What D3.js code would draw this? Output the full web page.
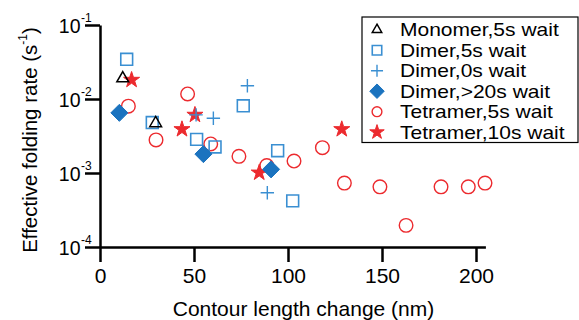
<!DOCTYPE html>
<html>
<head>
<style>
body{
  margin: 0;
  background: #fff;
}
text{
  font-family: "Liberation Sans", Arial, sans-serif;
}
</style>
</head>
<body>
<svg id="chart"></svg>
<script src="https://cdn.jsdelivr.net/npm/d3@7"></script>
<script>
// contour length change (nm) and effective folding rate (1/s) per series
var monomer5X = [12.1, 29.6];
var monomer5Y = [0.019, 0.0047];
var dimer5X = [14.2, 27.8, 51.4, 61.2, 76.2, 94.5, 102.5];
var dimer5Y = [0.0344, 0.0048, 0.00285, 0.00225, 0.0081, 0.0020, 0.00042];
var dimer0X = [78.4, 51.1, 60.3, 89.0];
var dimer0Y = [0.0151, 0.0061, 0.0055, 0.00054];
var dimer20X = [10.3, 55.0, 91.0];
var dimer20Y = [0.0065, 0.0018, 0.00112];
var tetra5X = [15.1, 29.8, 46.6, 58.9, 73.9, 88.7, 103.2, 118.3, 130.0, 148.9, 162.8, 181.4, 195.9, 204.8];
var tetra5Y = [0.0080, 0.0028, 0.0117, 0.00247, 0.00168, 0.00126, 0.00145, 0.0022, 0.00073, 0.00065, 0.000196, 0.00065, 0.00065, 0.00073];
var tetra10X = [16.8, 43.6, 50.5, 84.7, 128.6];
var tetra10Y = [0.0181, 0.0039, 0.0061, 0.00101, 0.0039];

var xTicks = [0, 50, 100, 150, 200];
var yTicks = [1e-4, 1e-3, 1e-2, 1e-1];

var blue = '#1b73bf';
var lightBlue = '#3a8fd2';
var red = '#ec2a2e';

var width = 579, height = 320;
var svg = d3.select('#chart').attr('width', width).attr('height', height);

var x = d3.scaleLinear().domain([0, 205]).range([100, 485.4]);
var y = d3.scaleLog().domain([1e-4, 1e-1]).range([247, 25]);

function pts(xs, ys) {
  return xs.map(function (v, i) { return [v, ys[i]]; });
}

// series in drawing order (later drawn on top)
var series = [
  {name: 'Tetramer,5s wait', data: pts(tetra5X, tetra5Y), shape: d3.symbolCircle, size: 145, fill: 'none', stroke: red, lw: 1.4, ls: 0.72},
  {name: 'Tetramer,10s wait', data: pts(tetra10X, tetra10Y), shape: d3.symbolStar, size: 80, fill: red, stroke: red, lw: 1, ls: 0.9},
  {name: 'Dimer,5s wait', data: pts(dimer5X, dimer5Y), shape: d3.symbolSquare, size: 140, fill: 'none', stroke: lightBlue, lw: 1.6, ls: 0.8},
  {name: 'Dimer,0s wait', data: pts(dimer0X, dimer0Y), shape: null, size: 0, fill: 'none', stroke: lightBlue, lw: 1.4, plus: true, ls: 0.9},
  {name: 'Dimer,>20s wait', data: pts(dimer20X, dimer20Y), shape: d3.symbolDiamond2, size: 185, fill: blue, stroke: blue, lw: 1, ls: 0.85},
  {name: 'Monomer,5s wait', data: pts(monomer5X, monomer5Y), shape: d3.symbolTriangle2, size: 100, fill: 'none', stroke: '#000', lw: 1.5, ls: 0.8}
];

function drawMarker(g, s, scale) {
  if (s.plus) {
    var h = 6.7 * scale;
    g.append('path')
      .attr('d', 'M' + (-h) + ',0H' + h + 'M0,' + (-h) + 'V' + h)
      .attr('stroke', s.stroke).attr('stroke-width', s.lw).attr('fill', 'none');
  } else {
    g.append('path')
      .attr('d', d3.symbol().type(s.shape).size(s.size * scale * scale)())
      .attr('fill', s.fill).attr('stroke', s.stroke).attr('stroke-width', s.lw);
  }
}

series.forEach(function (s) {
  svg.append('g').selectAll('g').data(s.data)
    .enter().append('g')
    .attr('transform', function (d) { return 'translate(' + x(d[0]) + ',' + y(d[1]) + ')'; })
    .each(function () { drawMarker(d3.select(this), s, 1); });
});

// x axis
var xAxis = svg.append('g')
  .attr('transform', 'translate(0,247)')
  .call(d3.axisBottom(x).tickValues(xTicks).tickSize(15).tickSizeOuter(0).tickFormat(function () { return ''; }));
xAxis.selectAll('.tick').append('text')
  .attr('y', 36).attr('text-anchor', 'middle')
  .attr('font-size', 21).attr('fill', '#000')
  .text(function (d) { return d; });

// y axis, labels as 10 with superscript exponent
var yAxis = svg.append('g')
  .attr('transform', 'translate(100,0)')
  .call(d3.axisLeft(y).tickValues(yTicks).tickSize(15).tickSizeOuter(0).tickFormat(function () { return ''; }));
yAxis.selectAll('.tick').each(function (d) {
  var t = d3.select(this);
  t.append('text').attr('x', -19.5).attr('y', 7.5).attr('text-anchor', 'end')
    .attr('font-size', 19.5).attr('fill', '#000').text('10');
  t.append('text').attr('x', -19).attr('y', -4).attr('text-anchor', 'start')
    .attr('font-size', 12).attr('fill', '#000').text(Math.round(Math.log10(d)));
});
svg.selectAll('.domain, .tick line').attr('stroke', '#000').attr('stroke-width', 2.5);

// axis titles
svg.append('text')
  .attr('x', 303.5).attr('y', 316).attr('text-anchor', 'middle')
  .attr('font-size', 21).text('Contour length change (nm)');

var yl = svg.append('text')
  .attr('transform', 'translate(37,140) rotate(-90)')
  .attr('text-anchor', 'middle').attr('font-size', 20.5);
yl.append('tspan').text('Effective folding rate (s');
yl.append('tspan').attr('font-size', 12).attr('dy', -10).text('-1');
yl.append('tspan').attr('dy', 10).text(')');

// legend (rows are tight, so the text is drawn a bit smaller and stretched sideways)
var legendOrder = ['Monomer,5s wait', 'Dimer,5s wait', 'Dimer,0s wait', 'Dimer,>20s wait', 'Tetramer,5s wait', 'Tetramer,10s wait'];
var legend = svg.append('g').attr('transform', 'translate(362,17)');
legend.append('rect').attr('width', 216).attr('height', 125.5)
  .attr('fill', '#fff').attr('stroke', '#000').attr('stroke-width', 1.2);
legendOrder.forEach(function (name, i) {
  var s = series.find(function (d) { return d.name === name; });
  var row = legend.append('g').attr('transform', 'translate(15,' + (12.7 + i * 20.5) + ')');
  drawMarker(row.append('g'), s, s.ls);
  var t = row.append('text').attr('x', 23).attr('y', 6.5).attr('font-size', 21).text(name);
  var w = t.node().getComputedTextLength();
  t.attr('font-size', 18.2).attr('textLength', w).attr('lengthAdjust', 'spacingAndGlyphs');
});
</script>
</body>
</html>
